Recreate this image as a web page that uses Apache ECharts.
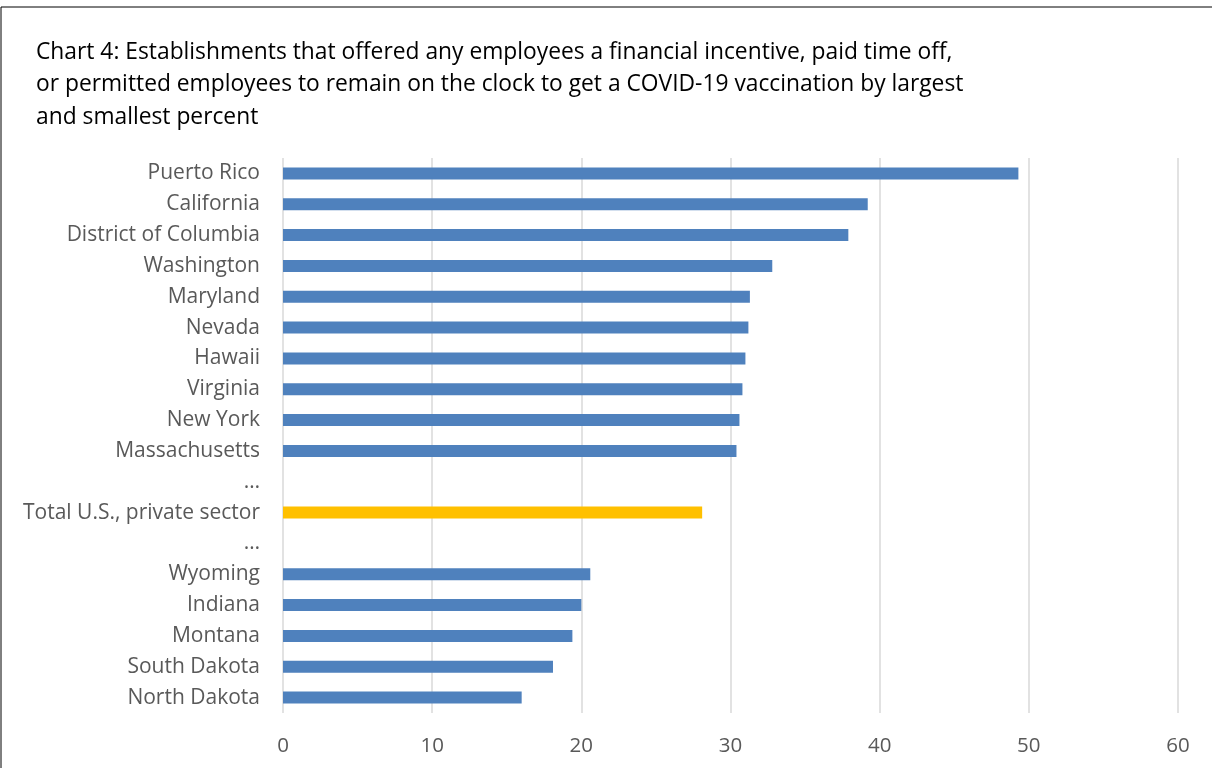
<!DOCTYPE html>
<html>
<head>
<meta charset="utf-8">
<script src="https://cdn.jsdelivr.net/npm/echarts@6/dist/echarts.min.js"></script>
<style>
html,body{margin:0;padding:0;background:#fff;}
#chart{width:1212px;height:768px;}
</style>
</head>
<body>
<div id="chart"></div>
<script>
const titleLines = [
  'Chart 4: Establishments that offered any employees a financial incentive, paid time off,',
  'or permitted employees to remain on the clock to get a COVID-19 vaccination by largest',
  'and smallest percent'
];
const categories = ['Puerto Rico','California','District of Columbia','Washington','Maryland','Nevada','Hawaii','Virginia','New York','Massachusetts','…','Total U.S., private sector','…','Wyoming','Indiana','Montana','South Dakota','North Dakota'];
const values = [49.3,39.2,37.9,32.8,31.3,31.2,31.0,30.8,30.6,30.4,null,28.1,null,20.6,20.0,19.4,18.1,16.0];
const highlight = [false,false,false,false,false,false,false,false,false,false,false,true,false,false,false,false,false,false];
const xTicks = [0,10,20,30,40,50,60];

const FONT = '"Open Sans", Lato, sans-serif';
const chart = echarts.init(document.getElementById('chart'));
chart.setOption({
  backgroundColor: '#fff',
  animation: false,
  title: {
    text: titleLines.join('\n'),
    left: 36, top: 36, padding: 0,
    textStyle: {fontFamily: FONT, fontSize: 22.8, fontWeight: 'normal', color: '#000', lineHeight: 32.5}
  },
  graphic: [{
    type: 'rect', shape: {x: 1, y: 7, width: 1230, height: 800},
    style: {fill: 'none', stroke: '#000', lineWidth: 1}, silent: true
  }],
  grid: {left: 283, right: 34, top: 158, bottom: 55},
  xAxis: {
    type: 'value', min: xTicks[0], max: xTicks[xTicks.length-1], interval: 10,
    axisLine: {show: false}, axisTick: {show: false},
    splitLine: {lineStyle: {color: '#d9d9d9', width: 1.5}},
    axisLabel: {fontFamily: FONT, fontSize: 20.5, color: '#595959', margin: 23}
  },
  yAxis: {
    type: 'category', data: categories, inverse: true,
    axisLine: {show: false}, axisTick: {show: false},
    axisLabel: {fontFamily: FONT, fontSize: 21, color: '#595959', margin: 23, padding: [3, 0, 0, 0]}
  },
  series: [{
    type: 'bar', barWidth: 12,
    data: values.map((v, i) => ({value: v, itemStyle: {color: highlight[i] ? '#FFC000' : '#4F81BD'}}))
  }]
});
</script>
</body>
</html>
